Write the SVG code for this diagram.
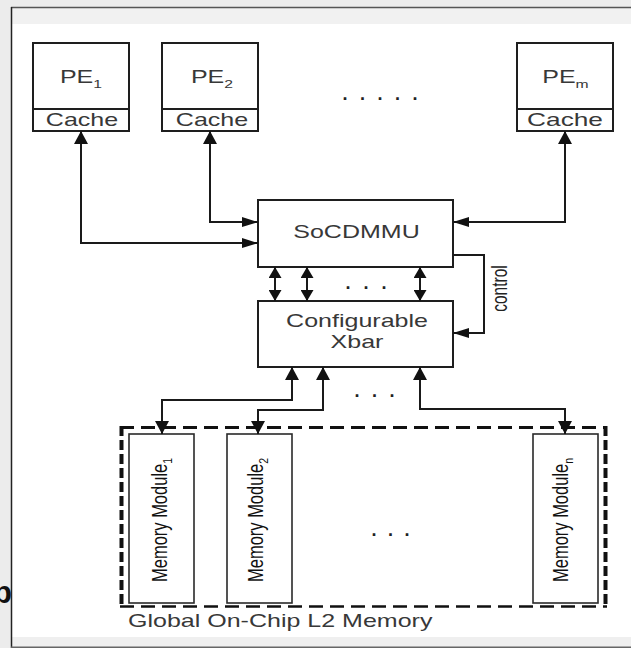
<svg xmlns="http://www.w3.org/2000/svg" width="631" height="648" viewBox="0 0 631 648">
<style>
  .box { fill: #ffffff; stroke: #1e1e1e; stroke-width: 2; }
  .mm { fill: #ffffff; stroke: #2a2a2a; stroke-width: 1.6; }
  .lbl { font-family: "Liberation Sans", Arial, sans-serif; font-size: 17.5px; fill: #383838; }
  .mlbl { font-family: "Liberation Sans", Arial, sans-serif; font-size: 16.5px; fill: #111111; }
  .dots { font-family: "Liberation Sans", Arial, sans-serif; font-size: 18px; font-weight: bold; fill: #222222; }
  .conn { fill: none; stroke: #1a1a1a; stroke-width: 2; }
  .dash { fill: none; stroke: #111111; }
</style>
<defs>
  <marker id="aV" viewBox="0 0 13 14" refX="13" refY="7" markerWidth="13" markerHeight="14" markerUnits="userSpaceOnUse" orient="auto-start-reverse">
    <path d="M0,0 L13,7 L0,14 Z" fill="#111111"/>
  </marker>
  <marker id="aH" viewBox="0 0 16 10" refX="16" refY="5" markerWidth="16" markerHeight="10" markerUnits="userSpaceOnUse" orient="auto-start-reverse">
    <path d="M0,0 L16,5 L0,10 Z" fill="#111111"/>
  </marker>
  <marker id="aS" viewBox="0 0 11 13" refX="11" refY="6.5" markerWidth="11" markerHeight="13" markerUnits="userSpaceOnUse" orient="auto-start-reverse">
    <path d="M0,0 L11,6.5 L0,13 Z" fill="#111111"/>
  </marker>
</defs>

<!-- frame / background -->
<rect x="0" y="0" width="631" height="648" fill="#ececec"/>
<rect x="12" y="8" width="619" height="16" fill="#f1f1f1"/>
<rect x="12" y="24" width="619" height="613" fill="#ffffff"/>
<rect x="12" y="637" width="619" height="10" fill="#efefef"/>
<text x="-7" y="603" font-family="Liberation Sans, Arial, sans-serif" font-size="31" font-weight="bold" fill="#111111">p</text>
<rect x="0" y="0" width="12" height="648" fill="#ececec" opacity="0"/>
<line x1="11" y1="7.5" x2="631" y2="7.5" stroke="#555555" stroke-width="1.5"/>
<line x1="11.5" y1="7" x2="11.5" y2="648" stroke="#222222" stroke-width="1.5"/>
<line x1="11" y1="647.3" x2="631" y2="647.3" stroke="#666666" stroke-width="1.4"/>

<!-- Global memory dashed enclosure -->
<g id="global-l2">
  <line class="dash" x1="120" y1="427.5" x2="607" y2="427.5" stroke-width="3" stroke-dasharray="14 7"/>
  <line class="dash" x1="120" y1="606.5" x2="607" y2="606.5" stroke-width="2.4" stroke-dasharray="14 7"/>
  <line class="dash" x1="121.5" y1="426" x2="121.5" y2="608" stroke-width="4" stroke-dasharray="10 4"/>
  <line class="dash" x1="605.5" y1="426" x2="605.5" y2="608" stroke-width="4" stroke-dasharray="10 4"/>
  <text class="lbl" transform="translate(128,627) scale(1.43,1)">Global On-Chip L2 Memory</text>
</g>

<!-- PEs -->
<g id="pe1">
  <rect class="box" x="33" y="43" width="96" height="88"/>
  <line class="box" x1="33" y1="109" x2="129" y2="109"/>
  <text class="lbl" text-anchor="middle" transform="translate(81,83) scale(1.43,1)">PE<tspan font-size="11" dy="4.5">1</tspan></text>
  <text class="lbl" text-anchor="middle" transform="translate(82,126) scale(1.43,1)">Cache</text>
</g>
<g id="pe2">
  <rect class="box" x="162" y="43" width="96" height="88"/>
  <line class="box" x1="162" y1="109" x2="258" y2="109"/>
  <text class="lbl" text-anchor="middle" transform="translate(212,83) scale(1.43,1)">PE<tspan font-size="11" dy="4.5">2</tspan></text>
  <text class="lbl" text-anchor="middle" transform="translate(212,126) scale(1.43,1)">Cache</text>
</g>
<g id="pem">
  <rect class="box" x="517" y="43" width="96" height="88"/>
  <line class="box" x1="517" y1="109" x2="613" y2="109"/>
  <text class="lbl" text-anchor="middle" transform="translate(565.5,83) scale(1.43,1)">PE<tspan font-size="11" dy="4.5">m</tspan></text>
  <text class="lbl" text-anchor="middle" transform="translate(565,126) scale(1.5,1)">Cache</text>
</g>
<g id="pe-dots">
  <text class="dots" x="342.5" y="100" letter-spacing="12.5">.....</text>
</g>

<!-- SoCDMMU -->
<g id="socdmmu">
  <rect class="box" x="258" y="200" width="195" height="67"/>
  <text class="lbl" text-anchor="middle" transform="translate(356.5,238) scale(1.43,1)">SoCDMMU</text>
</g>

<!-- Configurable Xbar -->
<g id="xbar">
  <rect class="box" x="258" y="301" width="195" height="66"/>
  <text class="lbl" text-anchor="middle" transform="translate(357,327) scale(1.43,1)">Configurable</text>
  <text class="lbl" text-anchor="middle" transform="translate(357,348) scale(1.43,1)">Xbar</text>
</g>
<g id="bus-dots">
  <text class="dots" x="345.5" y="289" letter-spacing="13">...</text>
  <text class="dots" x="354.5" y="397" letter-spacing="12.5">...</text>
</g>

<!-- Memory modules -->
<g id="mm1">
  <rect class="mm" x="129" y="434" width="65" height="169"/>
  <text class="mlbl" transform="translate(167,582) scale(1.3,1) rotate(-90)">Memory Module<tspan font-size="10.5" dy="4">1</tspan></text>
</g>
<g id="mm2">
  <rect class="mm" x="227" y="434" width="65" height="169"/>
  <text class="mlbl" transform="translate(263,582) scale(1.3,1) rotate(-90)">Memory Module<tspan font-size="10.5" dy="4">2</tspan></text>
</g>
<g id="mmn">
  <rect class="mm" x="533" y="434" width="65" height="169"/>
  <text class="mlbl" transform="translate(568,582) scale(1.3,1) rotate(-90)">Memory Module<tspan font-size="10.5" dy="4">n</tspan></text>
</g>
<g id="mm-dots">
  <text class="dots" x="371.5" y="535.5" letter-spacing="11.5">...</text>
</g>

<!-- control label -->
<g id="control-label">
  <text transform="translate(507,288.5) scale(1.4,1) rotate(-90)" text-anchor="middle" font-family="Liberation Sans, Arial, sans-serif" font-size="15.5" fill="#222222">control</text>
</g>

<!-- connectors -->
<g id="connectors">
  <path class="conn" d="M81,131 V243 H258" marker-start="url(#aV)" marker-end="url(#aH)"/>
  <path class="conn" d="M210,131 V222 H258" marker-start="url(#aV)" marker-end="url(#aH)"/>
  <path class="conn" d="M565,131 V222 H453" marker-start="url(#aV)" marker-end="url(#aH)"/>
  <path class="conn" d="M275,267 V301" marker-start="url(#aS)" marker-end="url(#aS)"/>
  <path class="conn" d="M307,267 V301" marker-start="url(#aS)" marker-end="url(#aS)"/>
  <path class="conn" d="M420,267 V301" marker-start="url(#aS)" marker-end="url(#aS)"/>
  <path class="conn" d="M453,255 H484 V333 H453" marker-end="url(#aH)"/>
  <path class="conn" d="M292,367 V400 H162 V434" marker-start="url(#aV)" marker-end="url(#aV)"/>
  <path class="conn" d="M323,367 V410 H258 V434" marker-start="url(#aV)" marker-end="url(#aV)"/>
  <path class="conn" d="M420,367 V409 H565 V434" marker-start="url(#aV)" marker-end="url(#aV)"/>
</g>
</svg>
